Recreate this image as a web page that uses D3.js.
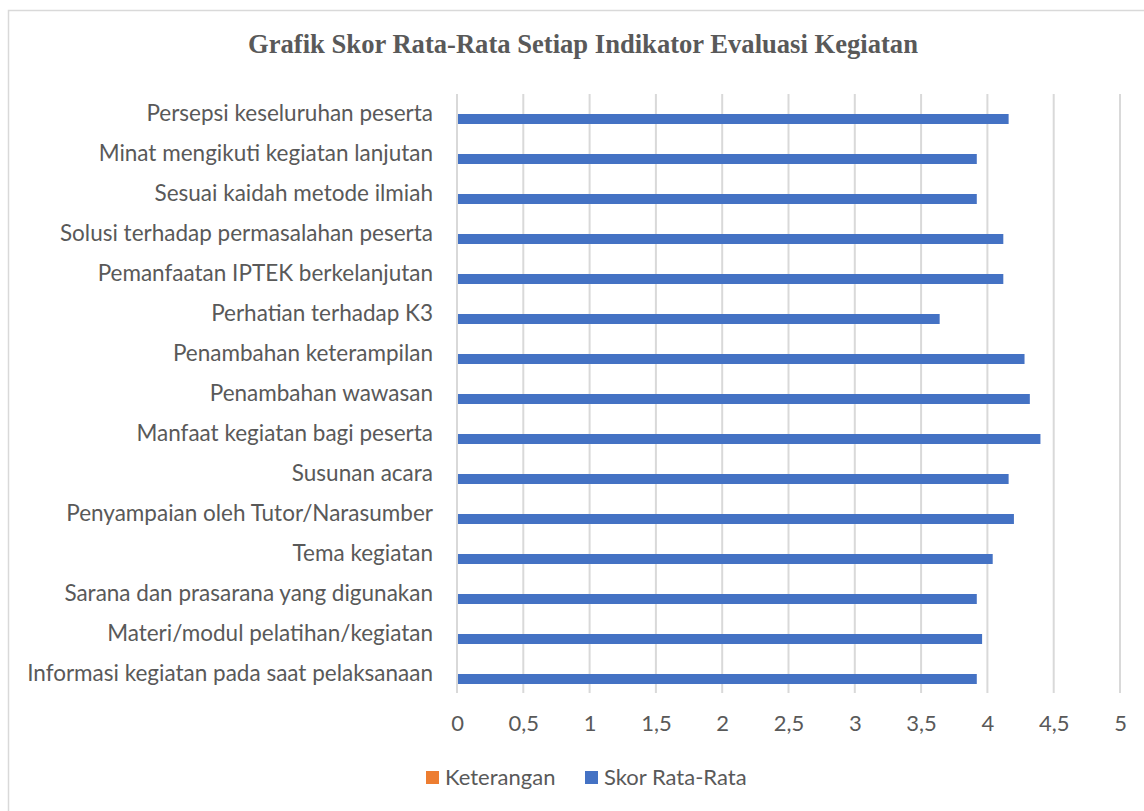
<!DOCTYPE html>
<html>
<head>
<meta charset="utf-8">
<script src="https://cdn.jsdelivr.net/npm/d3@7"></script>
<style>
  body { margin: 0; background: #fff; }
  text { fill: #595959; }
</style>
</head>
<body>
<div id="chart"></div>
<script>
// categories listed top to bottom
var categories = [
	"Persepsi keseluruhan peserta",
	"Minat mengikuti kegiatan lanjutan",
	"Sesuai kaidah metode ilmiah",
	"Solusi terhadap permasalahan peserta",
	"Pemanfaatan IPTEK berkelanjutan",
	"Perhatian terhadap K3",
	"Penambahan keterampilan",
	"Penambahan wawasan",
	"Manfaat kegiatan bagi peserta",
	"Susunan acara",
	"Penyampaian oleh Tutor/Narasumber",
	"Tema kegiatan",
	"Sarana dan prasarana yang digunakan",
	"Materi/modul pelatihan/kegiatan",
	"Informasi kegiatan pada saat pelaksanaan"
];
var skor = [4.16, 3.92, 3.92, 4.12, 4.12, 3.64, 4.28, 4.32, 4.40, 4.16, 4.20, 4.04, 3.92, 3.96, 3.92];
// Keterangan series has no values
var keterangan = [null, null, null, null, null, null, null, null, null, null, null, null, null, null, null];
var seriesNames = ["Keterangan", "Skor Rata-Rata"];
var seriesColors = ["#ED7D31", "#4472C4"];
var xTicks = [0, 0.5, 1, 1.5, 2, 2.5, 3, 3.5, 4, 4.5, 5];

var W = 1144, H = 811;
var plot = { left: 457, right: 1120, top: 94, bottom: 694 };
var font = "Lato, 'Open Sans', sans-serif";

var svg = d3.select("#chart").append("svg")
	.attr("width", W)
	.attr("height", H);

// outer border
svg.append("rect")
	.attr("x", 8.5).attr("y", 10.5)
	.attr("width", W).attr("height", H)
	.attr("fill", "none")
	.attr("stroke", "#d9d9d9")
	.attr("stroke-width", 1.5);

svg.append("text")
	.attr("x", 583).attr("y", 53)
	.attr("text-anchor", "middle")
	.style("font-family", "'Liberation Serif', 'Times New Roman', serif")
	.style("font-weight", "bold")
	.style("font-size", "26.6px")
	.text("Grafik Skor Rata-Rata Setiap Indikator Evaluasi Kegiatan");

var x = d3.scaleLinear().domain([0, 5]).range([plot.left, plot.right]);
var y = d3.scaleBand().domain(categories)
	.range([plot.top, plot.bottom])
	.paddingInner(0.5).paddingOuter(0.25);
var ySub = d3.scaleBand().domain(seriesNames).range([0, y.bandwidth()]);

// gridlines
svg.append("g").selectAll("line")
	.data(xTicks)
	.enter()
	.append("line")
	.attr("x1", function(d) { return x(d); })
	.attr("x2", function(d) { return x(d); })
	.attr("y1", plot.top)
	.attr("y2", plot.bottom - 1)
	.attr("stroke", "#d9d9d9")
	.attr("stroke-width", 2);

var rows = categories.map(function(c, i) {
	return { cat: c, values: [keterangan[i], skor[i]] };
});

var groups = svg.append("g").selectAll("g")
	.data(rows)
	.enter()
	.append("g")
	.attr("transform", function(d) { return "translate(0," + y(d.cat) + ")"; });

groups.selectAll("rect")
	.data(function(d) {
		return d.values.map(function(v, j) { return { name: seriesNames[j], v: v, color: seriesColors[j] }; })
			.filter(function(e) { return e.v != null; });
	})
	.enter()
	.append("rect")
	.attr("x", x(0) + 1)
	.attr("y", function(d) { return ySub(d.name); })
	.attr("width", function(d) { return x(d.v) - x(0) - 1; })
	.attr("height", ySub.bandwidth())
	.attr("fill", function(d) { return d.color; });

// category axis
var yAxis = svg.append("g")
	.attr("transform", "translate(" + (plot.left - 24) + ",0)")
	.call(d3.axisLeft(y).tickSize(0).tickPadding(0));
yAxis.select(".domain").remove();
yAxis.selectAll("text")
	.style("font-family", font)
	.style("font-size", "22.5px")
	.style("fill", "#595959");

// value axis
var fmt = function(d) { return String(d).replace(".", ","); };
var xAxis = svg.append("g")
	.attr("transform", "translate(0," + (plot.bottom + 21) + ")")
	.call(d3.axisBottom(x).tickValues(xTicks).tickFormat(fmt).tickSize(0).tickPadding(0));
xAxis.select(".domain").remove();
xAxis.selectAll("text")
	.style("font-family", font)
	.style("font-size", "22px")
	.style("fill", "#595959");

// legend
var legendX = [426, 585];
var legend = svg.append("g").selectAll("g")
	.data(seriesNames)
	.enter()
	.append("g")
	.attr("transform", function(d, i) { return "translate(" + legendX[i] + ",771)"; });
legend.append("rect")
	.attr("width", 13).attr("height", 13)
	.attr("fill", function(d, i) { return seriesColors[i]; });
legend.append("text")
	.attr("x", 19).attr("y", 13.5)
	.style("font-family", font)
	.style("font-size", "22px")
	.text(function(d) { return d; });
</script>
</body>
</html>
